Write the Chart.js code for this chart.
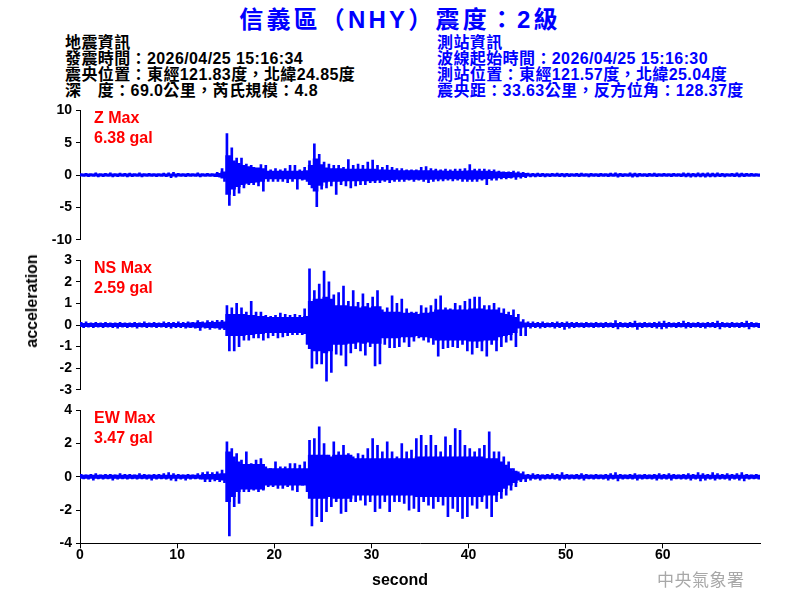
<!DOCTYPE html>
<html><head><meta charset="utf-8">
<script src="https://cdn.jsdelivr.net/npm/chart.js@4.4.1/dist/chart.umd.min.js"></script>
<style>
body{margin:0;width:800px;height:600px;background:#fff;position:relative;overflow:hidden;font-family:"Liberation Sans",Arial,"Noto Sans CJK TC",sans-serif;}
.t{position:absolute;white-space:nowrap;}
#title{left:0;width:800px;top:5px;text-align:center;font-size:24px;line-height:30px;font-weight:bold;color:#0000ff;letter-spacing:3.2px;}
.info{font-size:16px;font-weight:bold;line-height:16px;top:35px;letter-spacing:0.4px;}
.red{color:#ff0000;font-size:16px;font-weight:bold;line-height:20px;left:94px;}
canvas{position:absolute;left:0;}
#ylab{left:32px;top:301px;transform:translate(-50%,-50%) rotate(-90deg);font-size:16px;font-weight:bold;color:#000;}
#xlab{left:400px;top:580px;transform:translate(-50%,-50%);font-size:16px;font-weight:bold;color:#000;}
#wm{left:657px;top:571px;font-size:17px;line-height:20px;color:#a8a8a8;letter-spacing:0.5px;}
</style></head>
<body>
<div class="t" id="title">信義區（NHY）震度：2級</div>
<div class="t info" style="left:65px;color:#000;">地震資訊<br>發震時間：2026/04/25 15:16:34<br>震央位置：東經121.83度，北緯24.85度<br>深　度：69.0公里，芮氏規模：4.8</div>
<div class="t info" style="left:437px;color:#0000ff;">測站資訊<br>波線起始時間：2026/04/25 15:16:30<br>測站位置：東經121.57度，北緯25.04度<br>震央距：33.63公里，反方位角：128.37度</div>
<canvas id="cz" width="800" height="150" style="top:100px"></canvas>
<canvas id="cn" width="800" height="150" style="top:250px"></canvas>
<canvas id="ce" width="800" height="200" style="top:400px"></canvas>
<div class="t red" style="top:108px">Z Max<br>6.38 gal</div>
<div class="t red" style="top:258px">NS Max<br>2.59 gal</div>
<div class="t red" style="top:408px">EW Max<br>3.47 gal</div>
<div class="t" id="ylab">acceleration</div>
<div class="t" id="xlab">second</div>
<div class="t" id="wm">中央氣象署</div>
<script>
// bin width in seconds; per bin: upper peak, lower peak and the solid core half-height
const BIN = 0.5;
const X_TICKS = [0, 10, 20, 30, 40, 50, 60];
const Z_TICKS = [-10, -5, 0, 5, 10];
const NS_TICKS = [-3, -2, -1, 0, 1, 2, 3];
const EW_TICKS = [-4, -2, 0, 2, 4];

const Z_HI = [
0.2,0.25,0.2,0.35,0.2,0.25,0.35,0.2,0.3,0.25,
0.3,0.2,0.35,0.2,0.25,0.2,0.2,0.3,0.35,0.4,
0.25,0.2,0.25,0.2,0.35,0.2,0.25,0.2,0.4,1.0,
6.4,4.2,2.6,2.6,1.7,1.5,1.0,1.6,1.5,0.8,
1.0,0.8,1.0,1.5,1.5,0.8,1.2,2.2,4.8,3.2,
2.0,1.7,1.5,1.5,1.2,2.4,1.5,1.7,1.5,2.0,
2.3,1.5,1.2,1.5,1.2,1.0,1.0,0.8,0.8,0.8,
1.2,1.3,1.0,0.9,0.8,0.9,0.8,0.9,0.9,1.0,
1.6,0.9,0.9,0.9,0.8,0.8,0.6,0.5,0.5,0.6,
0.5,0.4,0.3,0.25,0.3,0.25,0.2,0.25,0.3,0.25,
0.25,0.2,0.25,0.3,0.2,0.25,0.2,0.25,0.2,0.3,
0.35,0.25,0.2,0.35,0.3,0.25,0.2,0.25,0.3,0.2,
0.25,0.2,0.25,0.2,0.35,0.3,0.25,0.35,0.3,0.35,
0.3,0.35,0.25,0.2,0.25,0.35,0.3,0.25,0.25,0.2];
const Z_LO = [
-0.2,-0.25,-0.2,-0.3,-0.25,-0.2,-0.3,-0.25,-0.2,-0.3,
-0.25,-0.2,-0.3,-0.2,-0.2,-0.25,-0.2,-0.25,-0.4,-0.35,
-0.2,-0.25,-0.2,-0.2,-0.3,-0.2,-0.2,-0.25,-0.35,-1.0,
-4.7,-3.2,-2.8,-2.0,-1.5,-1.5,-1.7,-2.5,-1.0,-1.0,
-1.0,-1.0,-1.2,-1.0,-2.2,-0.8,-1.0,-2.0,-4.9,-2.2,
-2.0,-1.7,-3.0,-1.5,-1.7,-2.0,-1.7,-1.5,-1.5,-1.2,
-1.2,-1.2,-1.0,-1.2,-1.0,-1.0,-1.0,-0.8,-1.0,-0.8,
-1.0,-1.2,-1.0,-0.9,-0.9,-0.8,-0.9,-0.8,-1.0,-1.0,
-1.0,-1.0,-0.8,-1.5,-0.8,-0.8,-0.6,-0.6,-0.5,-0.7,
-0.5,-0.4,-0.3,-0.3,-0.25,-0.3,-0.25,-0.2,-0.25,-0.3,
-0.25,-0.2,-0.25,-0.2,-0.3,-0.2,-0.25,-0.2,-0.25,-0.2,
-0.35,-0.25,-0.2,-0.35,-0.3,-0.2,-0.25,-0.2,-0.25,-0.2,
-0.2,-0.25,-0.2,-0.25,-0.3,-0.35,-0.3,-0.3,-0.35,-0.3,
-0.3,-0.25,-0.3,-0.2,-0.25,-0.3,-0.25,-0.2,-0.2,-0.2];
const Z_CORE = [
0.2,0.2,0.2,0.2,0.2,0.2,0.2,0.2,0.2,0.2,
0.2,0.2,0.2,0.2,0.2,0.2,0.2,0.2,0.2,0.2,
0.2,0.2,0.2,0.2,0.2,0.2,0.2,0.2,0.25,0.5,
3.0,2.2,1.8,1.5,1.3,1.2,1.1,1.0,0.6,0.6,
0.6,0.6,0.6,0.6,0.6,0.6,0.7,1.5,2.5,1.6,
1.1,1.0,1.0,1.0,0.9,0.9,0.9,0.9,0.9,0.9,
0.9,0.8,0.8,0.75,0.75,0.7,0.7,0.7,0.7,0.7,
0.7,0.7,0.7,0.65,0.65,0.6,0.6,0.6,0.6,0.65,
0.7,0.65,0.6,0.6,0.55,0.5,0.45,0.4,0.4,0.35,
0.3,0.25,0.2,0.2,0.2,0.2,0.2,0.2,0.2,0.2,
0.2,0.2,0.2,0.2,0.2,0.2,0.2,0.2,0.2,0.2,
0.2,0.2,0.2,0.2,0.2,0.2,0.2,0.2,0.2,0.2,
0.2,0.2,0.2,0.2,0.2,0.2,0.2,0.2,0.2,0.2,
0.2,0.2,0.2,0.2,0.2,0.2,0.2,0.2,0.2,0.2];

const NS_HI = [
0.12,0.15,0.1,0.12,0.1,0.12,0.1,0.1,0.12,0.1,
0.1,0.12,0.1,0.15,0.1,0.12,0.1,0.15,0.12,0.12,
0.15,0.12,0.15,0.12,0.2,0.15,0.2,0.18,0.22,0.22,
0.9,0.8,1.0,0.8,0.6,1.1,0.6,0.6,0.45,0.4,
0.45,0.55,0.5,0.45,0.5,0.45,0.75,2.6,1.6,1.9,
2.5,2.0,1.4,1.5,1.8,1.1,1.6,1.05,1.45,1.0,
1.3,1.6,0.7,0.8,1.35,1.0,1.2,0.75,0.6,0.6,
0.9,0.8,0.9,1.2,1.35,0.8,0.75,1.0,0.9,1.1,
1.2,1.3,1.3,0.9,0.9,1.0,0.8,0.75,0.6,0.7,
0.5,0.25,0.15,0.15,0.12,0.15,0.1,0.12,0.15,0.12,
0.15,0.12,0.12,0.1,0.12,0.1,0.12,0.1,0.12,0.1,
0.2,0.12,0.1,0.12,0.18,0.1,0.12,0.1,0.12,0.15,
0.18,0.12,0.1,0.12,0.18,0.12,0.1,0.12,0.1,0.12,
0.12,0.18,0.12,0.1,0.12,0.1,0.12,0.18,0.12,0.1];
const NS_LO = [
-0.12,-0.1,-0.12,-0.1,-0.12,-0.1,-0.12,-0.15,-0.1,-0.12,
-0.1,-0.15,-0.1,-0.12,-0.1,-0.12,-0.1,-0.12,-0.15,-0.12,
-0.12,-0.15,-0.12,-0.15,-0.25,-0.15,-0.2,-0.15,-0.2,-0.22,
-1.2,-1.2,-1.0,-0.7,-0.7,-0.6,-0.6,-0.7,-0.6,-0.5,
-0.6,-0.55,-0.5,-0.45,-0.45,-0.45,-0.9,-2.0,-1.8,-1.8,
-2.6,-2.2,-1.35,-1.4,-1.9,-1.3,-1.1,-1.2,-1.4,-1.0,
-1.9,-1.8,-0.9,-1.05,-1.05,-1.0,-0.8,-1.0,-0.75,-0.6,
-0.7,-0.8,-0.9,-1.45,-1.1,-1.05,-1.0,-1.05,-0.9,-1.2,
-1.35,-1.05,-1.2,-1.45,-0.9,-1.2,-1.0,-0.8,-0.7,-1.0,
-0.5,-0.5,-0.15,-0.12,-0.15,-0.12,-0.1,-0.15,-0.12,-0.2,
-0.15,-0.12,-0.1,-0.12,-0.1,-0.12,-0.1,-0.12,-0.1,-0.12,
-0.18,-0.1,-0.12,-0.1,-0.2,-0.12,-0.1,-0.12,-0.15,-0.18,
-0.15,-0.1,-0.12,-0.1,-0.15,-0.12,-0.1,-0.12,-0.15,-0.1,
-0.12,-0.18,-0.1,-0.12,-0.1,-0.12,-0.1,-0.18,-0.1,-0.12];
const NS_CORE = [
0.08,0.08,0.08,0.08,0.08,0.08,0.08,0.08,0.08,0.08,
0.08,0.08,0.08,0.08,0.08,0.08,0.08,0.08,0.08,0.08,
0.08,0.08,0.1,0.1,0.12,0.1,0.12,0.12,0.13,0.15,
0.5,0.5,0.5,0.5,0.45,0.45,0.4,0.4,0.35,0.35,
0.35,0.35,0.35,0.35,0.35,0.35,0.4,1.1,1.2,1.2,
1.3,1.2,0.9,0.9,0.9,0.85,0.85,0.8,0.85,0.8,
0.85,0.85,0.6,0.6,0.6,0.6,0.55,0.55,0.55,0.5,
0.55,0.55,0.6,0.7,0.7,0.7,0.7,0.7,0.7,0.7,
0.75,0.75,0.75,0.7,0.7,0.7,0.55,0.5,0.45,0.35,
0.15,0.1,0.08,0.08,0.08,0.08,0.08,0.08,0.08,0.08,
0.08,0.08,0.08,0.08,0.08,0.08,0.08,0.08,0.08,0.08,
0.08,0.08,0.08,0.08,0.08,0.08,0.08,0.08,0.08,0.08,
0.08,0.08,0.08,0.08,0.08,0.08,0.08,0.08,0.08,0.08,
0.08,0.08,0.08,0.08,0.08,0.08,0.08,0.08,0.08,0.08];

const EW_HI = [
0.15,0.12,0.15,0.2,0.12,0.15,0.15,0.12,0.2,0.15,
0.15,0.12,0.2,0.15,0.12,0.15,0.15,0.2,0.25,0.2,
0.15,0.12,0.15,0.12,0.2,0.25,0.3,0.25,0.3,0.4,
2.1,1.7,1.4,1.0,1.5,0.8,1.0,1.1,0.6,0.5,
0.9,0.6,0.6,0.8,0.8,0.7,0.9,2.2,2.3,3.0,
2.0,1.3,2.1,1.5,1.9,1.4,1.2,1.4,1.3,1.7,
2.3,1.9,1.5,2.1,1.5,1.2,2.0,1.5,1.6,2.3,
2.5,1.9,2.5,1.9,1.5,2.4,1.9,2.9,2.8,1.9,
1.7,1.5,1.7,1.9,2.7,1.5,1.5,1.2,0.9,0.5,
0.3,0.3,0.15,0.2,0.15,0.12,0.15,0.2,0.15,0.25,
0.15,0.12,0.15,0.2,0.15,0.12,0.15,0.12,0.15,0.2,
0.25,0.15,0.12,0.15,0.2,0.12,0.15,0.12,0.15,0.2,
0.15,0.2,0.15,0.12,0.15,0.2,0.15,0.25,0.2,0.15,
0.25,0.2,0.15,0.2,0.15,0.2,0.25,0.15,0.12,0.15];
const EW_LO = [
-0.12,-0.15,-0.2,-0.12,-0.15,-0.12,-0.2,-0.15,-0.12,-0.15,
-0.12,-0.15,-0.12,-0.15,-0.2,-0.15,-0.12,-0.15,-0.2,-0.25,
-0.15,-0.2,-0.15,-0.12,-0.15,-0.3,-0.3,-0.25,-0.3,-0.35,
-3.55,-1.8,-1.6,-0.9,-0.9,-0.8,-0.9,-0.8,-0.6,-0.6,
-0.7,-0.7,-0.6,-0.8,-0.9,-0.5,-0.9,-2.95,-2.4,-2.7,
-2.1,-1.8,-1.5,-2.2,-2.1,-1.5,-1.5,-1.4,-1.7,-1.5,
-2.1,-1.9,-1.5,-2.1,-1.5,-1.5,-1.6,-2.0,-1.9,-2.1,
-1.5,-1.7,-1.9,-1.5,-1.7,-2.4,-1.9,-2.1,-2.5,-2.4,
-1.7,-1.9,-1.5,-1.9,-2.4,-1.5,-1.3,-1.1,-0.8,-0.6,
-0.3,-0.3,-0.2,-0.15,-0.2,-0.15,-0.12,-0.15,-0.2,-0.15,
-0.15,-0.12,-0.15,-0.2,-0.12,-0.15,-0.12,-0.15,-0.2,-0.15,
-0.25,-0.15,-0.12,-0.15,-0.2,-0.15,-0.12,-0.15,-0.2,-0.15,
-0.15,-0.2,-0.12,-0.15,-0.15,-0.2,-0.15,-0.25,-0.2,-0.15,
-0.2,-0.15,-0.15,-0.2,-0.15,-0.2,-0.25,-0.15,-0.12,-0.15];
const EW_CORE = [
0.1,0.1,0.1,0.1,0.1,0.1,0.1,0.1,0.1,0.1,
0.1,0.1,0.1,0.1,0.1,0.1,0.1,0.1,0.1,0.1,
0.1,0.1,0.1,0.1,0.1,0.15,0.15,0.15,0.18,0.2,
1.5,1.2,0.9,0.75,0.75,0.75,0.75,0.75,0.5,0.5,
0.5,0.5,0.5,0.5,0.5,0.5,0.5,1.3,1.3,1.3,
1.3,1.2,1.3,1.3,1.3,1.3,1.1,1.1,1.1,1.1,
1.1,1.1,1.1,1.1,1.1,1.1,1.1,1.1,1.1,1.2,
1.2,1.2,1.2,1.2,1.2,1.2,1.2,1.2,1.2,1.2,
1.2,1.2,1.2,1.1,1.1,1.1,0.9,0.7,0.5,0.35,
0.2,0.12,0.1,0.1,0.1,0.1,0.1,0.1,0.1,0.1,
0.1,0.1,0.1,0.1,0.1,0.1,0.1,0.1,0.1,0.1,
0.1,0.1,0.1,0.1,0.1,0.1,0.1,0.1,0.1,0.1,
0.1,0.1,0.1,0.1,0.1,0.1,0.1,0.1,0.1,0.1,
0.1,0.1,0.1,0.1,0.1,0.1,0.1,0.1,0.1,0.1];

Chart.defaults.font.family = "'Liberation Sans', Arial, sans-serif";
Chart.defaults.color = '#000';

const BLUE = '#0000ff';
function bars(vals, offset, toZero) {
  return vals.map((v, i) => ({x: i * BIN + offset, y: toZero ? [0, v] : [-v, v]}));
}

const tickFont = {family: "'Liberation Sans', Arial, sans-serif", size: 14, weight: 'bold', lineHeight: 0.9};

function makeChart(id, hi, lo, core, yTicks, showX) {
  const padBottom = showX ? 0 : 6.7;
  const common = {backgroundColor: BLUE, borderWidth: 0, grouped: false};
  return new Chart(document.getElementById(id), {
    type: 'bar',
    data: {datasets: [
      Object.assign({data: bars(core, BIN / 2, false), barThickness: 5}, common),
      Object.assign({data: bars(hi, BIN / 4, true), barThickness: 2}, common),
      Object.assign({data: bars(lo, 3 * BIN / 4, true), barThickness: 2}, common)
    ]},
    options: {
      responsive: false, animation: false, events: [],
      layout: {padding: {left: 0, right: 40, top: 7.3, bottom: padBottom}},
      plugins: {legend: {display: false}, tooltip: {enabled: false}},
      scales: {
        x: {
          type: 'linear', min: 0, max: 70, display: showX, offset: false,
          afterFit: s => { if (showX) s.height = 56.7; },
          afterBuildTicks: s => { s.ticks = X_TICKS.map(v => ({value: v})); },
          ticks: {color: '#000', font: tickFont, padding: 1, maxRotation: 0},
          grid: {display: true, offset: false, drawOnChartArea: false, drawTicks: true, tickLength: 5, color: '#000'},
          border: {display: true, color: '#000', width: 1}
        },
        y: {
          type: 'linear', min: yTicks[0], max: yTicks[yTicks.length - 1],
          afterFit: s => { s.width = 80; },
          afterBuildTicks: s => { s.ticks = yTicks.map(v => ({value: v})); },
          ticks: {color: '#000', font: tickFont, padding: 4},
          grid: {display: true, drawOnChartArea: false, drawTicks: true, tickLength: 4, color: '#000'},
          border: {display: true, color: '#000', width: 1}
        }
      }
    }
  });
}

makeChart('cz', Z_HI, Z_LO, Z_CORE, Z_TICKS, false);
makeChart('cn', NS_HI, NS_LO, NS_CORE, NS_TICKS, false);
makeChart('ce', EW_HI, EW_LO, EW_CORE, EW_TICKS, true);
</script>
</body></html>
